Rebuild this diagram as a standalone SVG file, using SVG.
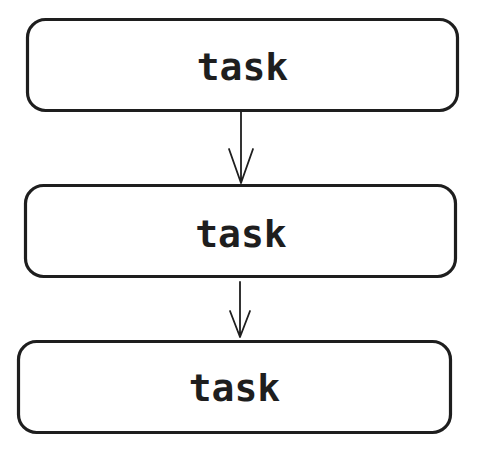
<svg xmlns="http://www.w3.org/2000/svg" width="477" height="452" viewBox="0 0 477 452">
  <style>
    .box { fill: #ffffff; stroke: #1e1e1e; stroke-width: 3.2; }
    .label { font-family: "DejaVu Sans Mono", "Liberation Mono", monospace; font-size: 38px; font-weight: bold; fill: #1e1e1e; text-anchor: middle; }
    .edge { fill: none; stroke: #1e1e1e; stroke-width: 1.8; stroke-linecap: round; stroke-linejoin: round; }
  </style>
  <rect width="477" height="452" fill="#ffffff"/>
  <g id="node-task-1">
    <rect class="box" x="27.5" y="19.5" width="430" height="91" rx="18"/>
    <text class="label" x="242.5" y="80">task</text>
  </g>
  <g id="node-task-2">
    <rect class="box" x="25.5" y="185.5" width="430" height="91" rx="18"/>
    <text class="label" x="241" y="247">task</text>
  </g>
  <g id="node-task-3">
    <rect class="box" x="18.5" y="341.5" width="432" height="91" rx="18"/>
    <text class="label" x="234.5" y="401">task</text>
  </g>
  <g id="connectors">
    <path class="edge" d="M241 112 L241 183 M229 149 L241 183 L253 149"/>
    <path class="edge" d="M240 282 L240 337 M230 311 L240 337 L250 311"/>
  </g>
</svg>
